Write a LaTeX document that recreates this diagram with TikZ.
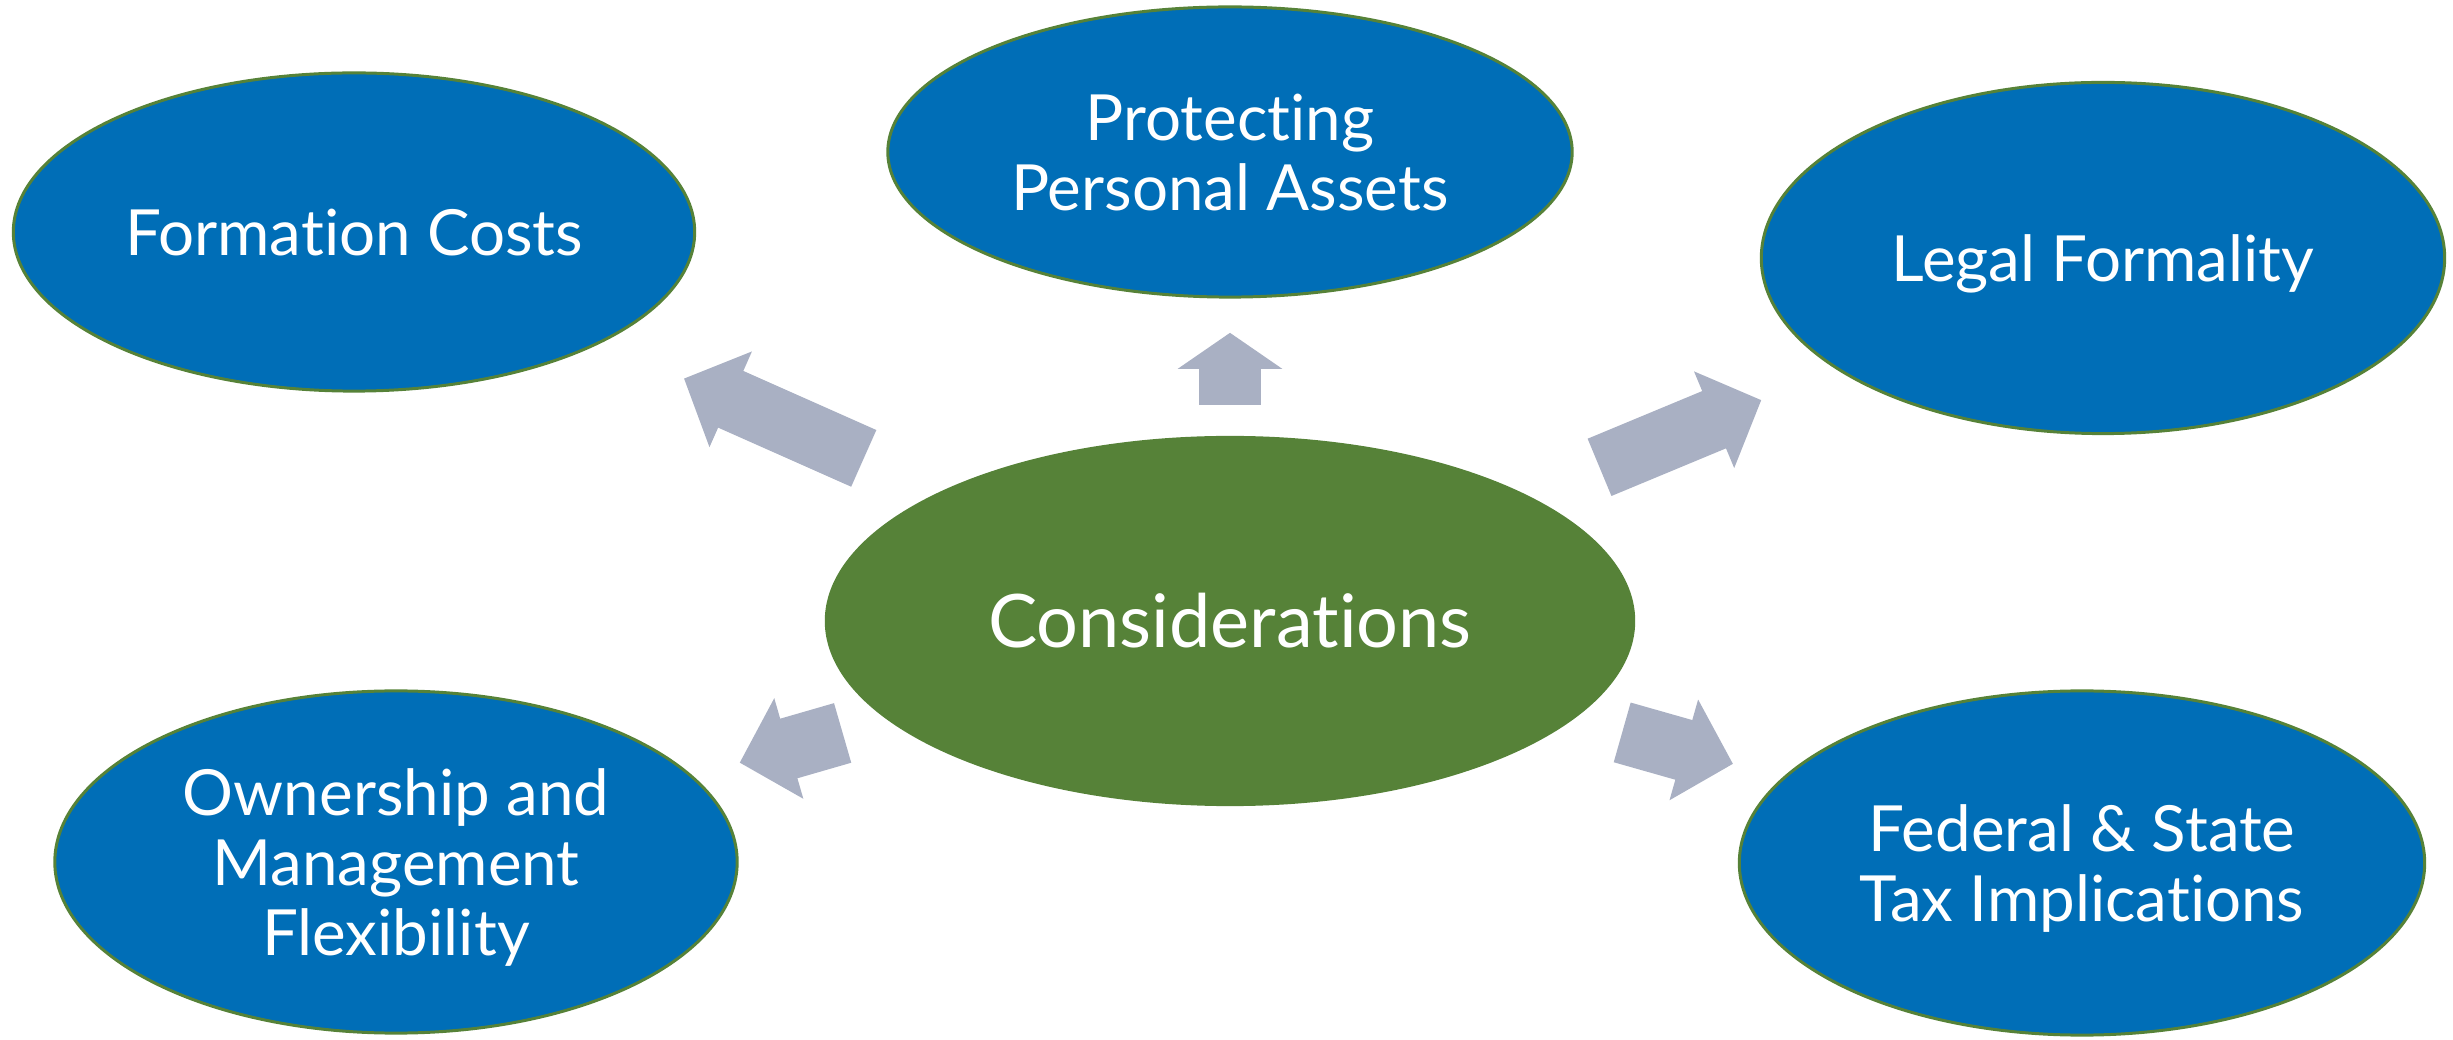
\documentclass[tikz,border=0pt]{standalone}
\usepackage{fontspec}
\setmainfont{Lato}[RawFeature={-liga;-clig;-rlig;-calt;-dlig}]
\usetikzlibrary{shapes.geometric,calc,arrows.meta}
\definecolor{topicblue}{RGB}{0,110,183}
\definecolor{coregreen}{RGB}{86,130,56}
\definecolor{arrowgray}{RGB}{169,176,195}
% keep t and i apart
\newcommand{\tisep}{t\kern0pt i}

\begin{document}
\begin{tikzpicture}[x=0.01cm,y=-0.01cm,
    topic/.style={ellipse, draw=coregreen, line width=0.85pt, fill=topicblue,
      text=white, inner sep=0pt, align=center, text depth=0pt,
      font=\fontsize{18.1}{19.8}\selectfont},
    core/.style={ellipse, fill=coregreen, text=white, inner sep=0pt,
      minimum width=8.1cm, minimum height=3.7cm,
      font=\fontsize{21}{24}\selectfont},
    push/.style={draw=arrowgray, line width=0.62cm,
      -{Triangle[length=0.51cm,width=1.04cm,line width=1pt]}}]
    \useasboundingbox (0,0) rectangle (2453,1040);
    % centre
    \node[core] (cons) at (1230,621) {Considera\tisep ons};
    % topics
    \node[topic, minimum width=6.81cm, minimum height=3.18cm] (form) at (354,232) {Forma\tisep on Costs};
    \node[topic, minimum width=6.84cm, minimum height=2.9cm] (prot) at (1230,152) {Protec\tisep ng\\Personal Assets};
    \node[topic, minimum width=6.83cm, minimum height=3.51cm] (legal) at (2103,258) {Legal Formality};
    \node[topic, minimum width=6.82cm, minimum height=3.42cm] (own) at (396,862) {Ownership and\\Management\\Flexibility};
    \node[topic, minimum width=6.85cm, minimum height=3.44cm] (fed) at (2082,863) {Federal \& State\\Tax Implica\tisep ons};
    % arrows
    \draw[push] ($(cons)!4.005cm!(form)$) -- ($(cons)!5.97cm!(form)$);
    \draw[push, -{Triangle[length=0.36cm,width=1.04cm,line width=1pt]}]
      ($(cons)!2.16cm!(prot)$) -- ($(cons)!2.88cm!(prot)$);
    \draw[push] ($(cons)!4cm!(legal)$) -- ($(cons)!5.75cm!(legal)$);
    \draw[push] ($(cons)!4.03cm!(own)$) -- ($(cons)!5.1cm!(own)$);
    \draw[push] ($(cons)!4.075cm!(fed)$) -- ($(cons)!5.225cm!(fed)$);
\end{tikzpicture}
\end{document}
